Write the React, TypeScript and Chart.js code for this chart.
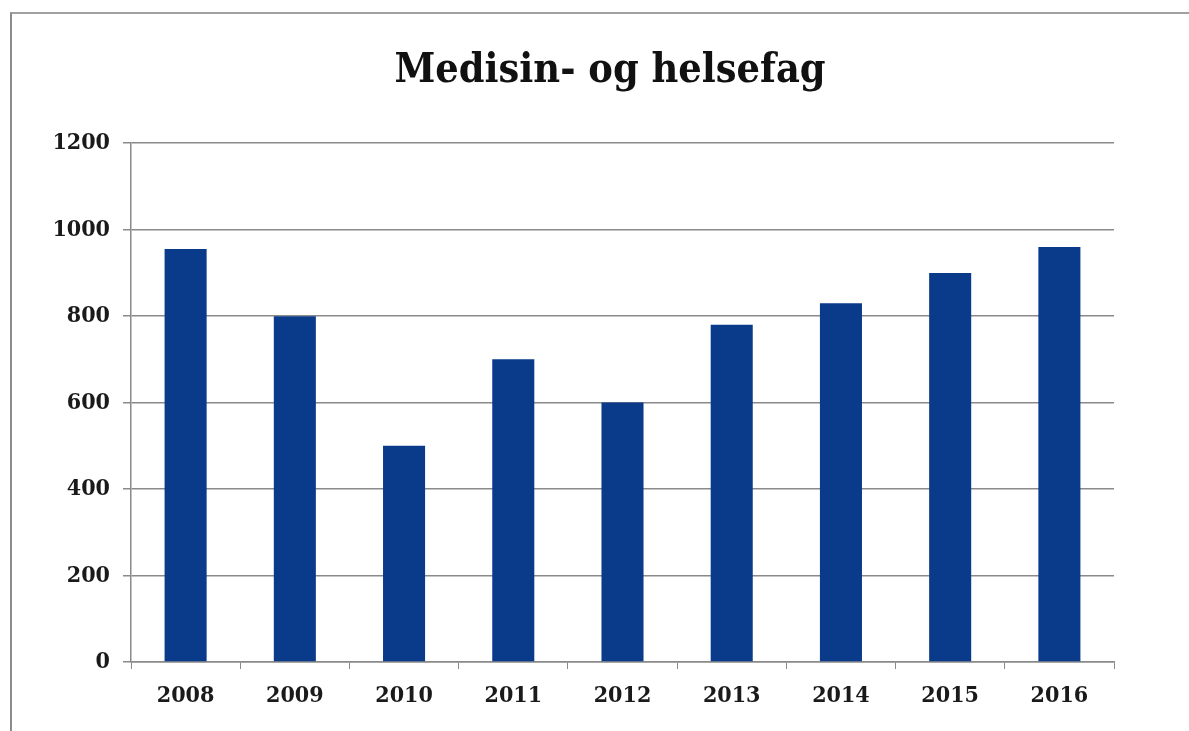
import React, { useEffect, useRef } from "react";
import { Chart, registerables } from "chart.js";

Chart.register(...registerables);

const chartTitle = "Medisin- og helsefag";
const years = ["2008", "2009", "2010", "2011", "2012", "2013", "2014", "2015", "2016"];
const values = [955, 800, 500, 700, 600, 780, 830, 900, 960];
const yMin = 0;
const yMax = 1200;
const yStep = 200;

const FONT = "'DejaVu Serif Condensed', 'DejaVu Serif', serif";

export default function App() {
  const ref = useRef<HTMLCanvasElement | null>(null);

  useEffect(() => {
    if (!ref.current) return;
    const chart = new Chart(ref.current, {
      type: "bar",
      data: {
        labels: years,
        datasets: [
          {
            data: values,
            backgroundColor: "#0a3a8a",
            borderWidth: 0,
            barPercentage: 0.385,
            categoryPercentage: 1,
            yAxisID: "y",
          },
        ],
      },
      options: {
        animation: false,
        responsive: false,
        maintainAspectRatio: false,
        layout: { padding: { left: 0, right: 0, top: 0, bottom: 20 } },
        plugins: {
          legend: { display: false },
          tooltip: { enabled: false },
          title: {
            display: true,
            text: chartTitle,
            color: "#111",
            font: { family: FONT, size: 41, weight: "bold", lineHeight: 1.2 },
            padding: { top: 33, bottom: 47 },
          },
        },
        scales: {
          x: {
            offset: true,
            grid: {
              display: true,
              offset: true,
              drawOnChartArea: false,
              drawTicks: true,
              tickLength: 7,
              color: "#8a8a8a",
            },
            border: { display: true, color: "#8a8a8a", width: 1.5 },
            ticks: {
              color: "#1a1a1a",
              padding: 13,
              font: { family: FONT, size: 23, weight: "bold" },
            },
            afterFit: (s: any) => {
              s.height = 50;
            },
          },
          y: {
            position: "left",
            min: yMin,
            max: yMax,
            ticks: {
              stepSize: yStep,
              color: "#1a1a1a",
              padding: 13,
              font: { family: FONT, size: 23, weight: "bold" },
              callback: (v: any) => String(v),
            },
            grid: {
              color: "#8a8a8a",
              lineWidth: 1.5,
              drawTicks: true,
              tickLength: 8,
            },
            border: { display: true, color: "#8a8a8a", width: 1.5 },
            afterFit: (s: any) => {
              s.width = 119;
            },
          },
          yRightSpace: {
            position: "right",
            min: yMin,
            max: yMax,
            grid: { display: false, drawTicks: false },
            border: { display: false },
            ticks: { display: false },
            afterFit: (s: any) => {
              s.width = 94;
            },
          },
        },
      },
    });
    return () => chart.destroy();
  }, []);

  return (
    <div
      style={{
        position: "fixed",
        left: 0,
        top: 0,
        width: 1189,
        height: 731,
        overflow: "hidden",
        background: "#fff",
      }}
    >
      <div
        style={{
          position: "absolute",
          left: 10,
          top: 12,
          width: 1198,
          height: 730,
          borderLeft: "2px solid #8c8c8c",
          borderTop: "2px solid #a0a0a0",
          boxSizing: "border-box",
        }}
      >
        <canvas ref={ref} width={1196} height={718} style={{ display: "block" }} />
      </div>
    </div>
  );
}
